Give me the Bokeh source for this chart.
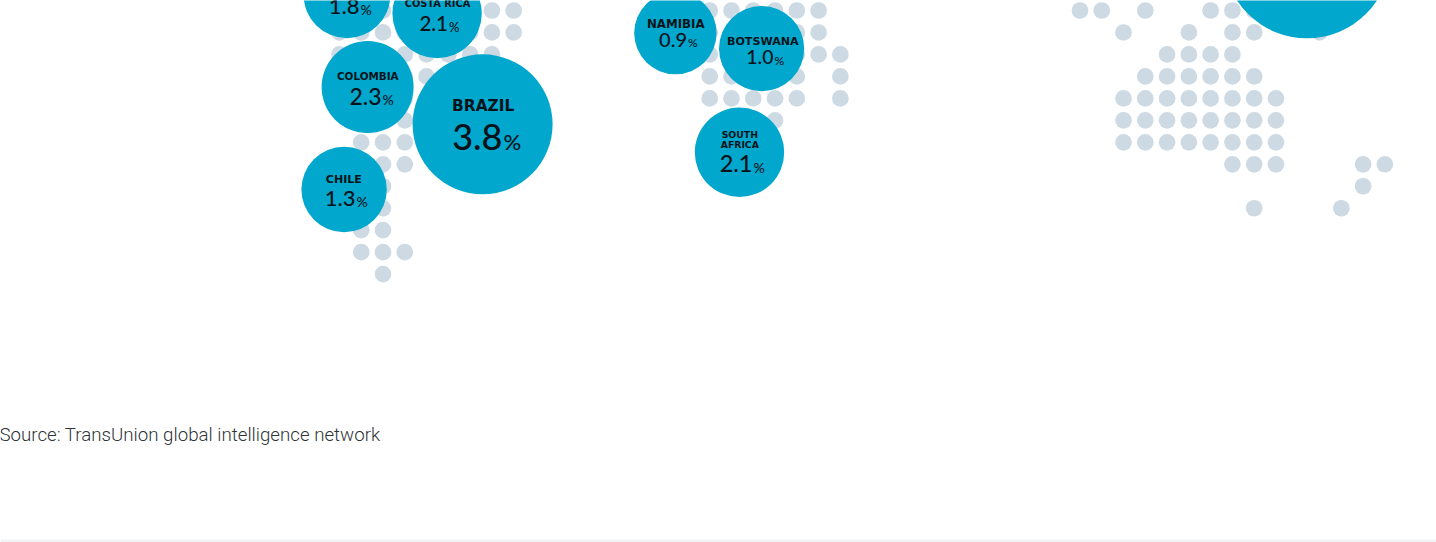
from bokeh.core.properties import value
from bokeh.embed import file_html
from bokeh.models import ColumnDataSource
from bokeh.plotting import figure
from bokeh.resources import INLINE
import numpy as np

# Dot-matrix world map: occupied grid columns for each row of the lattice
map_rows = {
    0: [-1, 0, 1, 2, 3, 4, 5, 6, 15, 16, 17, 18, 19, 20, 32, 33, 35, 38, 39, 40],
    1: [-2, -1, 0, 1, 2, 3, 4, 5, 6, 15, 16, 17, 18, 19, 20, 34, 37, 39, 40, 43],
    2: [-2, -1, 0, 1, 2, 3, 4, 5, 15, 16, 17, 18, 19, 20, 21, 36, 37, 38, 39],
    3: [-1, 0, 1, 2, 3, 15, 16, 17, 18, 19, 21, 35, 36, 37, 38, 39, 40],
    4: [-1, 0, 1, 2, 3, 15, 16, 17, 18, 19, 21, 34, 35, 36, 37, 38, 39, 40, 41],
    5: [-1, 0, 1, 2, 18, 34, 35, 36, 37, 38, 39, 40, 41],
    6: [-1, 0, 1, 34, 35, 36, 37, 38, 39, 40, 41],
    7: [-1, 0, 1, 39, 40, 41, 45, 46],
    8: [-1, 0, 45],
    9: [-1, 0, 40, 44],
    10: [-1, 0],
    11: [-1, 0, 1],
    12: [0],
}

# Countries and their rates, in percent
countries = ["BRAZIL", "COLOMBIA", "COSTA RICA", "CHILE", "", "NAMIBIA", "BOTSWANA", "SOUTH\nAFRICA"]
rates = [3.8, 2.3, 2.1, 1.3, 1.8, 0.9, 1.0, 2.1]

# Bubble radius scale: rate in percent to radius in px
scale_rates = [0.9, 1.0, 1.3, 1.8, 2.1, 2.3, 3.8]
scale_radii = [41.2, 42.6, 42.7, 43.4, 44.7, 46.0, 70.0]

# Layout of the bubbles and their labels, in page pixels
bubble_x = [482.1, 367.1, 436.6, 343.6, 346.5, 674.9, 761.1, 739.0]
bubble_y = [123.8, 86.6, 13.0, 189.0, -5.7, 32.6, 48.1, 151.8]
name_x = [482.7, 367.3, 437.0, 343.3, 347.0, 675.3, 762.3, 739.3]
name_base = [111.0, 79.3, 7.0, 183.0, 0.0, 28.0, 45.0, 147.3]
name_size = [15.4, 10.4, 9.8, 11, 11, 11.8, 11.1, 9.3]
value_anchor = [502.0, 381.0, 447.5, 355.0, 359.0, 686.5, 773.0, 752.0]
value_base = [149.0, 104.3, 30.7, 205.7, 14.3, 46.7, 64.0, 171.7]
value_size = [36, 23, 20.5, 22, 22, 20, 19.5, 23.5]
pct_size = [22, 14, 13, 14, 14, 12, 12, 14]

# Lattice geometry of the map
GRID_X0, GRID_DX = 382.5, 21.78
GRID_Y0, GRID_DY = 10.0, 21.97
DOT_R = 8.35

# Bokeh draws alphabetic text this fraction of an em below the given y
BASELINE_SHIFT = 0.36
LINE_GAP = 10.0

BUBBLE = "#01a7cc"
DOT = "#cddae3"
INK = "#07131a"

p = figure(width=1436, height=542, x_range=(0, 1436), y_range=(542, 0),
           output_backend="svg", toolbar_location=None, min_border=0,
           outline_line_color=None, background_fill_color="white",
           border_fill_color="white")
p.axis.visible = False
p.grid.visible = False

dot_x = [GRID_X0 + GRID_DX * c for r, cols in map_rows.items() for c in cols]
dot_y = [GRID_Y0 + GRID_DY * r for r, cols in map_rows.items() for c in cols]
p.circle(dot_x, dot_y, radius=DOT_R, fill_color=DOT, line_color=None)

radii = np.interp(rates, scale_rates, scale_radii)
p.circle(bubble_x, bubble_y, radius=radii, fill_color=BUBBLE, line_color=None)
# The largest bubble sits above the top edge, so its label is out of view
p.circle([1306.5], [-45.7], radius=83.5, fill_color=BUBBLE, line_color=None)


def baseline(y, size):
    return y - BASELINE_SHIFT * size


# Country names; a two-line name stacks upward from its last baseline
nx, ny, nt, ns = [], [], [], []
for x, base, name, size in zip(name_x, name_base, countries, name_size):
    for k, part in enumerate(reversed(name.split("\n"))):
        if part:
            nx.append(x)
            ny.append(baseline(base - k * LINE_GAP, size))
            nt.append(part)
            ns.append(f"{size}px")
p.text(x="x", y="y", text="t", text_font_size="s",
       source=ColumnDataSource(dict(x=nx, y=ny, t=nt, s=ns)),
       text_font=value("DejaVu Sans"), text_font_style="bold", text_color=INK,
       text_align="center", text_baseline="alphabetic")

# Rate figures, with a smaller percent sign beside them
p.text(x="x", y="y", text="t", text_font_size="s",
       source=ColumnDataSource(dict(x=value_anchor,
                                    y=[baseline(b, s) for b, s in zip(value_base, value_size)],
                                    t=[f"{r:.1f}" for r in rates],
                                    s=[f"{s}px" for s in value_size])),
       text_font=value("Lato Medium"), text_color=INK,
       text_align="right", text_baseline="alphabetic")
p.text(x="x", y="y", text="t", text_font_size="s",
       source=ColumnDataSource(dict(x=[a + 1 for a in value_anchor],
                                    y=[baseline(b, s) for b, s in zip(value_base, pct_size)],
                                    t=["%"] * len(rates),
                                    s=[f"{s}px" for s in pct_size])),
       text_font=value("Lato Medium"), text_color=INK,
       text_align="left", text_baseline="alphabetic")

p.text([-1.0], [baseline(441.0, 18.7)], text=["Source: TransUnion global intelligence network"],
       text_font=value("Roboto Light"), text_font_size="18.7px", text_color="#2f3438",
       text_align="left", text_baseline="alphabetic")

# Hairline closing the section at the bottom of the page
p.quad(left=[0], right=[1436], top=[539], bottom=[542], fill_color="#f2f3f4", line_color=None)

open("out.html", "w").write(file_html(p, INLINE))
